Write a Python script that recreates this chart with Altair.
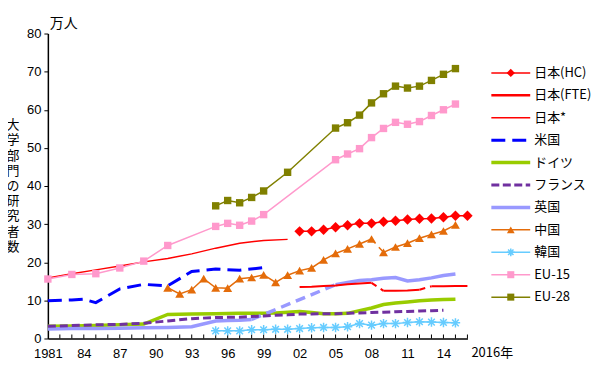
import altair as alt
import pandas as pd

# ---------------- data ----------------
jp_hc_years = list(range(2002, 2017))
jp_hc = [28.1, 28.1, 28.5, 29.2, 29.7, 30.2, 30.2, 30.6, 30.9, 31.2, 31.4, 31.5, 31.8, 32.2, 32.2]

jp_fte_years = list(range(2002, 2017))
jp_fte = [13.5, 13.6, 13.8, 13.9, 14.2, 14.4, 14.6, 12.5, 12.5, 12.6, 12.8, 13.7, 13.7, 13.8, 13.8]

jp_star_years = [1981, 1983, 1985, 1987, 1989, 1991, 1993, 1995, 1997, 1999, 2001]
jp_star = [15.9, 17.0, 18.0, 19.0, 20.1, 21.0, 22.2, 23.7, 25.0, 25.7, 26.0]

us_years = [1981, 1983, 1984, 1985, 1987, 1989, 1991, 1993, 1995, 1997, 1999]
us = [9.9, 10.1, 10.3, 9.4, 13.0, 14.2, 13.8, 17.6, 18.2, 17.9, 18.6]

de_years = [1981, 1983, 1985, 1987, 1989, 1991, 1993, 1995, 1997, 1999, 2000, 2001, 2002,
            2003, 2004, 2005, 2006, 2007, 2008, 2009, 2010, 2011, 2012, 2013, 2014, 2015]
de = [3.2, 3.3, 3.4, 3.6, 3.8, 6.3, 6.4, 6.5, 6.6, 6.6, 6.7, 6.9, 7.1,
      6.8, 6.5, 6.5, 6.6, 7.3, 8.0, 8.9, 9.3, 9.6, 9.9, 10.1, 10.2, 10.3]

fr_years = [1981, 1983, 1985, 1987, 1989, 1991, 1993, 1995, 1997, 1999, 2000, 2001, 2002,
            2003, 2004, 2005, 2006, 2007, 2008, 2009, 2010, 2011, 2012, 2013, 2014]
fr = [3.2, 3.4, 3.6, 3.7, 4.0, 4.6, 5.2, 5.5, 5.6, 5.9, 6.1, 6.2, 6.4,
      6.4, 6.5, 6.5, 6.6, 6.7, 6.8, 6.9, 7.0, 7.1, 7.2, 7.3, 7.4]

uk_years = [1981, 1983, 1985, 1987, 1989, 1991, 1993, 1995, 1996, 1997, 1998,
            2005, 2006, 2007, 2008, 2009, 2010, 2011, 2012, 2013, 2014, 2015]
uk = [2.5, 2.6, 2.6, 2.7, 2.8, 2.9, 3.1, 4.6, 4.7, 4.8, 5.0,
      14.1, 14.7, 15.2, 15.4, 15.8, 16.0, 15.1, 15.4, 15.9, 16.5, 16.9]

cn_years = list(range(1991, 2016))
cn = [13.3, 11.7, 12.8, 15.7, 13.3, 13.2, 15.7, 16.0, 16.7, 14.7, 16.6, 17.8, 18.5,
      20.6, 22.3, 23.5, 24.8, 26.1, 22.6, 24.0, 25.0, 26.3, 27.3, 28.2, 29.8]

kr_years = list(range(1995, 2016))
kr = [2.0, 2.0, 2.0, 2.3, 2.3, 2.4, 2.4, 2.6, 2.8, 2.9, 2.9, 3.1, 3.9, 3.5, 3.9, 3.9,
      4.2, 4.4, 4.3, 4.2, 4.1]

eu15_years = [1981, 1983, 1985, 1987, 1989, 1991, 1995, 1996, 1997, 1998, 1999,
              2005, 2006, 2007, 2008, 2009, 2010, 2011, 2012, 2013, 2014, 2015]
eu15 = [15.6, 16.8, 17.0, 18.5, 20.3, 24.4, 29.4, 30.2, 29.7, 30.8, 32.5,
        46.9, 48.4, 49.8, 52.7, 55.1, 56.7, 56.2, 56.9, 58.5, 60.0, 61.5]

eu28_years = [1995, 1996, 1997, 1998, 1999, 2001, 2005, 2006, 2007, 2008, 2009,
              2010, 2011, 2012, 2013, 2014, 2015]
eu28 = [34.8, 36.2, 35.6, 37.0, 38.7, 43.6, 55.2, 56.6, 58.6, 61.8, 64.2,
        66.2, 65.7, 66.2, 67.7, 69.3, 70.8]

series_labels = ["日本(HC)", "日本(FTE)", "日本*", "米国", "ドイツ", "フランス", "英国",
                 "中国", "韓国", "EU-15", "EU-28"]
y_title = "大学部門の研究者数"
x_tick_years = list(range(1981, 2017))
y_ticks = list(range(0, 81, 10))

# ---------------- helpers ----------------
JP_FONT = "Noto Sans CJK JP"
NUM_FONT = "Liberation Sans"


def frame(years, vals, part=0):
    return pd.DataFrame({"year": years, "value": vals, "part": part})


def split_frame(years, vals, starts):
    """Split a series into parts; a new part begins at each year in starts."""
    part, parts = 0, []
    for y in years:
        if y in starts:
            part += 1
        parts.append(part)
    return pd.DataFrame({"year": years, "value": vals, "part": parts})


def connector(years, vals, y0, y1):
    i0, i1 = years.index(y0), years.index(y1)
    return frame([years[i0], years[i1]], [vals[i0], vals[i1]])


X = alt.X(
    "year:Q", title=None,
    scale=alt.Scale(domain=[1981, 2016], nice=False, zero=False),
    axis=alt.Axis(
        values=x_tick_years,
        labelExpr="datum.value == 1981 ? '1981' : ((((datum.value - 1981) % 3) == 0 && datum.value < 2016) ? substring(toString(datum.value), 2) : '')",
        labelOverlap=False, labelFlush=False, labelFont=NUM_FONT, labelFontSize=13,
        labelColor="black", labelPadding=5, tickSize=4, tickColor="transparent",
        domainColor="black", domainWidth=1.5, grid=False,
    ),
)
Y = alt.Y(
    "value:Q", title=None,
    scale=alt.Scale(domain=[0, 80], nice=False),
    axis=alt.Axis(
        values=y_ticks, labelFont=NUM_FONT, labelFontSize=13, labelColor="black",
        labelPadding=3, tickSize=4, tickColor="black", domainColor="black",
        domainWidth=1.5, grid=False,
    ),
)

ASTER = "M-1,0L1,0M0,-1L0,1M-0.7,-0.7L0.7,0.7M-0.7,0.7L0.7,-0.7"

RED, BLUE, GREEN, PURPLE = "#FF0000", "#0000FF", "#99CC00", "#7030A0"
LAV, ORANGE, SKY, PINK, OLIVE = "#9999FF", "#E46C0A", "#66CCFF", "#FF99CC", "#808000"


def line(df, color, width, dash=None):
    kw = dict(color=color, strokeWidth=width)
    if dash:
        kw["strokeDash"] = dash
    return alt.Chart(df).mark_line(**kw).encode(x=X, y=Y, detail="part:N")


def points(df, color, shape, size, filled=True, sw=1.5):
    if filled:
        m = alt.Chart(df).mark_point(shape=shape, filled=True, color=color, size=size, opacity=1)
    else:
        m = alt.Chart(df).mark_point(shape=shape, filled=False, stroke=color,
                                     strokeWidth=sw, size=size, opacity=1)
    return m.encode(x=X, y=Y)


layers = []
# inside tick marks on the year axis
layers.append(alt.Chart(pd.DataFrame({"year": x_tick_years[1:]})).mark_rule(color="black", strokeWidth=1)
              .encode(x=X, y=alt.value(306), y2=alt.value(302)))
# France / Germany / UK (thick background lines)
layers.append(line(frame(de_years, de), GREEN, 3.5))
uk_df = split_frame(uk_years, uk, [2005])
layers.append(line(uk_df, LAV, 3.5))
layers.append(line(connector(uk_years, uk, 1998, 2005), LAV, 3.5, [10, 6]))
layers.append(line(frame(fr_years, fr), PURPLE, 3, [8, 4]))
# Korea
layers.append(line(frame(kr_years, kr), SKY, 1.5))
layers.append(points(frame(kr_years, kr), SKY, ASTER, 90, filled=False))
# US
layers.append(line(frame(us_years, us), BLUE, 3, [14, 7]))
# Japan*
layers.append(line(frame(jp_star_years, jp_star), RED, 1.5))
# Japan FTE
fte_df = split_frame(jp_fte_years, jp_fte, [2009, 2013])
layers.append(line(fte_df, RED, 2))
layers.append(line(connector(jp_fte_years, jp_fte, 2008, 2009), RED, 2, [6, 5]))
layers.append(line(connector(jp_fte_years, jp_fte, 2012, 2013), RED, 2, [6, 5]))
# China
cn_df = split_frame(cn_years, cn, [2009])
layers.append(line(cn_df, ORANGE, 1.5))
layers.append(line(connector(cn_years, cn, 2008, 2009), ORANGE, 1.5, [6, 5]))
layers.append(points(frame(cn_years, cn), ORANGE, "triangle-up", 80))
# Japan HC
layers.append(line(frame(jp_hc_years, jp_hc), RED, 1.5))
layers.append(points(frame(jp_hc_years, jp_hc), RED, "diamond", 110))
# EU-15, EU-28
layers.append(line(frame(eu15_years, eu15), PINK, 1.5))
layers.append(points(frame(eu15_years, eu15), PINK, "square", 55))
layers.append(line(frame(eu28_years, eu28), OLIVE, 1.5))
layers.append(points(frame(eu28_years, eu28), OLIVE, "square", 55))

# unit label, vertical (stacked) axis title and last year label
one = pd.DataFrame({"a": [0]})
layers.append(alt.Chart(one).mark_text(text="万人", font=JP_FONT, fontSize=14, align="left",
                                       baseline="middle", color="black")
              .encode(x=alt.value(2), y=alt.value(-10)))
for k, ch in enumerate(y_title):
    layers.append(alt.Chart(one).mark_text(text=ch, font=JP_FONT, fontSize=13,
                                           align="center", baseline="middle", color="black")
                  .encode(x=alt.value(-35), y=alt.value(92 + 15.25 * k)))
layers.append(alt.Chart(frame([2016], [0])).mark_text(text="2016年", font=JP_FONT, fontSize=13,
                                                      align="left", baseline="middle", dx=4, dy=15,
                                                      color="black")
              .encode(x=X, y=Y))

# ---------------- manual legend ----------------
legend_styles = [
    dict(color=RED, width=1.5, dash=None, shape="diamond", size=70, filled=True),
    dict(color=RED, width=2.5, dash=None, shape=None),
    dict(color=RED, width=1.5, dash=None, shape=None),
    dict(color=BLUE, width=3, dash=[14, 7], shape=None),
    dict(color=GREEN, width=3.5, dash=None, shape=None),
    dict(color=PURPLE, width=3, dash=[8, 3.5], shape=None),
    dict(color=LAV, width=3.5, dash=None, shape=None),
    dict(color=ORANGE, width=1.5, dash=None, shape="triangle-up", size=60, filled=True),
    dict(color=SKY, width=1.5, dash=None, shape=ASTER, size=60, filled=False),
    dict(color=PINK, width=1.5, dash=None, shape="square", size=50, filled=True),
    dict(color=OLIVE, width=1.5, dash=None, shape="square", size=50, filled=True),
]
LX0, LX1, LXM, LXT, LY0, LDY = 445, 484, 464.5, 488, 39.5, 22.5
for i, (lab, st) in enumerate(zip(series_labels, legend_styles)):
    ly = LY0 + i * LDY
    kw = dict(color=st["color"], strokeWidth=st["width"])
    if st["dash"]:
        kw["strokeDash"] = st["dash"]
    layers.append(alt.Chart(one).mark_rule(**kw)
                  .encode(x=alt.value(LX0), x2=alt.value(LX1), y=alt.value(ly)))
    if st["shape"]:
        if st["filled"]:
            pm = alt.Chart(one).mark_point(shape=st["shape"], filled=True, color=st["color"],
                                           size=st["size"], opacity=1)
        else:
            pm = alt.Chart(one).mark_point(shape=st["shape"], filled=False, stroke=st["color"],
                                           strokeWidth=1.5, size=st["size"], opacity=1)
        layers.append(pm.encode(x=alt.value(LXM), y=alt.value(ly)))
    layers.append(alt.Chart(one).mark_text(text=lab, font=JP_FONT, fontSize=13, align="left",
                                           baseline="middle", color="black")
                  .encode(x=alt.value(LXT), y=alt.value(ly)))

chart = alt.layer(*layers).properties(
    width=421, height=306,
    padding={"left": 40, "top": 25, "right": 125, "bottom": 30},
    autosize=alt.AutoSizeParams(type="none"),
    background="white",
).configure_view(stroke=None)

chart.save("out.html", embed_options={"renderer": "svg", "actions": False})
